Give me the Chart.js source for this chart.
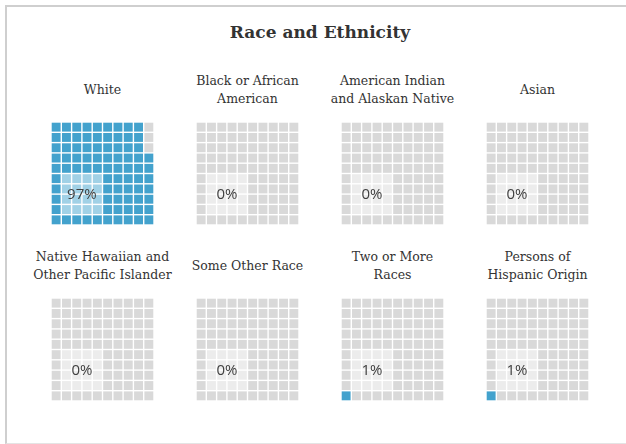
<!DOCTYPE html>
<html>
<head>
<meta charset="utf-8">
<script src="https://cdn.jsdelivr.net/npm/chart.js@4.4.0/dist/chart.umd.min.js"></script>
<style>
  html, body { margin: 0; overflow: hidden; }
  body { width: 626px; height: 444px; background: #fff; position: relative; }
  #frame { position: absolute; left: 5px; top: 5px; width: 640px; height: 436px; border-left: 2px solid #cfcfcf; border-top: 2px solid #cfcfcf; border-bottom: 1px solid #e4e4e4; }
  #mainTitle { position: absolute; left: 220px; width: 200px; top: 22px; text-align: center; font: bold 17px "DejaVu Serif", serif; color: #333; }
  .ptitle { position: absolute; width: 150px; height: 40px; display: flex; align-items: center; justify-content: center; text-align: center; font: 12.5px "DejaVu Serif", serif; line-height: 18.5px; color: #333; }
  canvas.waffle { position: absolute; }
</style>
</head>
<body>
<div id="frame"></div>
<div id="mainTitle">Race and Ethnicity</div>
<div id="panels"></div>
<script>
// chart data
const categories = [
  ['White'],
  ['Black or African', 'American'],
  ['American Indian', 'and Alaskan Native'],
  ['Asian'],
  ['Native Hawaiian and', 'Other Pacific Islander'],
  ['Some Other Race'],
  ['Two or More', 'Races'],
  ['Persons of', 'Hispanic Origin']
];
const percents = [97, 0, 0, 0, 0, 0, 1, 1];

const gridSize = 10;
const fillColor = '#43a2cd';
const emptyColor = '#d9d9d9';

// draws the light box and the percent label on each waffle
const labelPlugin = {
    id: 'waffleLabel',
    afterDatasetsDraw(chart, args, opts) {
        const x = chart.scales.x, y = chart.scales.y;
        const ctx = chart.ctx;
        const left = x.getPixelForValue(0.5), right = x.getPixelForValue(4.5);
        const top = y.getPixelForValue(4.5), bottom = y.getPixelForValue(0.5);
        ctx.save();
        ctx.fillStyle = 'rgba(255,255,255,0.5)';
        ctx.fillRect(left, top, right - left, bottom - top);
        ctx.fillStyle = '#404040';
        ctx.font = '15px "Open Sans", sans-serif';
        ctx.textAlign = 'center';
        ctx.textBaseline = 'middle';
        ctx.fillText(opts.text, (left + right) / 2, (top + bottom) / 2 + 1);
        ctx.restore();
    }
};

const panels = document.getElementById('panels');

categories.forEach((lines, i) => {
    const col = i % 4, row = Math.floor(i / 4);
    const left = 51 + col * 145, top = 122 + row * 176;

    const t = document.createElement('div');
    t.className = 'ptitle';
    t.style.left = (left + 51.5 - 75) + 'px';
    t.style.top = (top - 52) + 'px';
    t.innerHTML = lines.join('<br>');
    panels.appendChild(t);

    const cv = document.createElement('canvas');
    cv.className = 'waffle';
    cv.width = 103; cv.height = 103;
    cv.style.left = left + 'px';
    cv.style.top = top + 'px';
    panels.appendChild(cv);

    // cells filled column by column, bottom to top
    const points = [], colors = [];
    for (let c = 0; c < gridSize; c++) {
        for (let r = 0; r < gridSize; r++) {
            points.push({ x: c, y: r });
            colors.push(c * gridSize + r < percents[i] ? fillColor : emptyColor);
        }
    }

    new Chart(cv.getContext('2d'), {
        type: 'scatter',
        data: {
            datasets: [{
                data: points,
                backgroundColor: colors,
                pointStyle: 'rect',
                pointRadius: 6.3,
                pointHoverRadius: 6.3,
                borderWidth: 0,
                clip: false
            }]
        },
        options: {
            responsive: false,
            animation: false,
            events: [],
            layout: { padding: 0, autoPadding: false },
            scales: {
                x: { type: 'linear', min: -0.5, max: 9.5, display: false },
                y: { type: 'linear', min: -0.5, max: 9.5, display: false }
            },
            plugins: {
                legend: { display: false },
                tooltip: { enabled: false },
                waffleLabel: { text: percents[i] + '%' }
            }
        },
        plugins: [labelPlugin]
    });
});
</script>
</body>
</html>
